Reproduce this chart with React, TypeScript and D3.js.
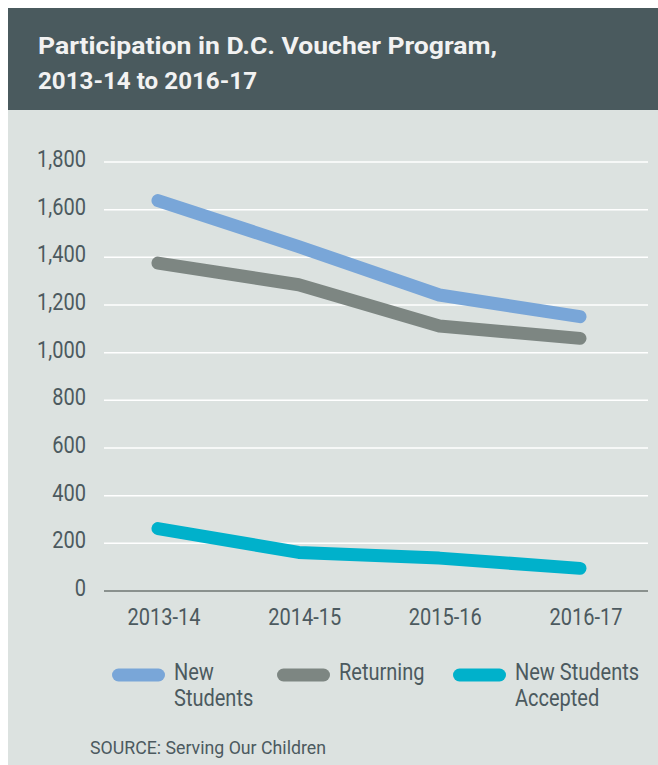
import React from "react";
import * as d3 from "d3";

const years = ["2013-14", "2014-15", "2015-16", "2016-17"];
const newStudents = [1638, 1445, 1242, 1151];
const returning = [1376, 1285, 1112, 1060];
const accepted = [262, 162, 138, 95];
const yTicks = [0, 200, 400, 600, 800, 1000, 1200, 1400, 1600, 1800];
const seriesNames = [["New", "Students"], ["Returning"], ["New Students", "Accepted"]];
const seriesColors = ["#79a6d8", "#7d8682", "#00b1cb"];

const W = 658;
const H = 765;
const TEXT = "#4c5a5f";
const SX = 0.87;

export default function App() {
  const x = d3.scalePoint<string>().domain(years).range([158, 580]);
  const y = d3.scaleLinear().domain([0, 1800]).range([591, 162]);
  const line = d3
    .line<number>()
    .x((_, i) => x(years[i]) as number)
    .y((d) => y(d));
  const series = [newStudents, returning, accepted];
  const fmt = d3.format(",");
  const legendX = [112, 277, 453];

  return (
    <svg
      width={W}
      height={H}
      style={{ position: "absolute", left: 0, top: 0 }}
      fontFamily="Roboto, 'DejaVu Sans', sans-serif"
    >
      <rect x={0} y={0} width={W} height={H} fill="#ffffff" />
      <rect x={8} y={110} width={W - 8} height={H - 110} fill="#dce2e0" />
      <rect x={8} y={8} width={W - 8} height={102} fill="#4a5a5e" />
      <text
        x={38}
        y={53.5}
        fill="#f2f2f2"
        fontSize={23}
        fontWeight={700}
        textLength={459}
        lengthAdjust="spacingAndGlyphs"
      >
        Participation in D.C. Voucher Program,
      </text>
      <text
        x={38}
        y={88.5}
        fill="#f2f2f2"
        fontSize={23}
        fontWeight={700}
        textLength={219}
        lengthAdjust="spacingAndGlyphs"
      >
        2013-14 to 2016-17
      </text>

      {yTicks.map((t) => (
        <g key={t}>
          {t > 0 && (
            <line x1={104} x2={648} y1={y(t)} y2={y(t)} stroke="#ffffff" strokeWidth={1.5} />
          )}
          <text
            transform={`translate(86,${y(t) + 5}) scale(${SX},1)`}
            textAnchor="end"
            fontSize={23}
            fill={TEXT}
          >
            {fmt(t)}
          </text>
        </g>
      ))}
      <line x1={104} x2={648} y1={y(0)} y2={y(0)} stroke="#8a918e" strokeWidth={2} />

      {years.map((yr) => (
        <text
          key={yr}
          transform={`translate(${(x(yr) as number) + 6},625) scale(${SX},1)`}
          textAnchor="middle"
          fontSize={23}
          fill={TEXT}
        >
          {yr}
        </text>
      ))}

      {series.map((s, i) => (
        <path
          key={i}
          d={line(s) as string}
          fill="none"
          stroke={seriesColors[i]}
          strokeWidth={13}
          strokeLinecap="round"
          strokeLinejoin="round"
        />
      ))}

      {seriesNames.map((names, i) => (
        <g key={i}>
          <line
            x1={legendX[i] + 6.5}
            x2={legendX[i] + 53 - 6.5}
            y1={675}
            y2={675}
            stroke={seriesColors[i]}
            strokeWidth={13}
            strokeLinecap="round"
          />
          {names.map((n, j) => (
            <text
              key={j}
              transform={`translate(${legendX[i] + 62},${679.5 + j * 26}) scale(${SX},1)`}
              fontSize={23}
              fill={TEXT}
            >
              {n}
            </text>
          ))}
        </g>
      ))}

      <text
        x={90}
        y={754}
        fontSize={19}
        fill={TEXT}
        textLength={236}
        lengthAdjust="spacingAndGlyphs"
      >
        SOURCE: Serving Our Children
      </text>
    </svg>
  );
}
